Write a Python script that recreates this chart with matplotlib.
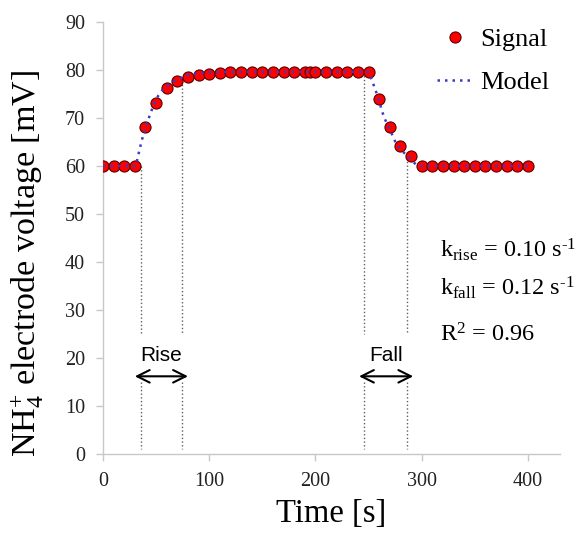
import matplotlib
matplotlib.use("Agg")
import matplotlib.pyplot as plt

time_s = [0, 10, 20, 30, 40, 50, 60, 70, 80, 90, 100, 110, 120, 130, 140, 150,
          160, 170, 180, 190, 195, 200, 210, 220, 230, 240, 250, 260, 270, 280,
          290, 300, 310, 320, 330, 340, 350, 360, 370, 380, 390, 400]
signal_mv = [60.0, 60.0, 60.0, 60.0, 68.2, 73.2, 76.2, 77.7, 78.6, 79.0, 79.2,
             79.4, 79.5, 79.6, 79.5, 79.5, 79.5, 79.5, 79.5, 79.5, 79.5, 79.5,
             79.5, 79.5, 79.5, 79.5, 79.5, 74.0, 68.1, 64.1, 62.1, 60.0, 60.0,
             60.0, 60.0, 60.0, 60.0, 60.0, 60.0, 60.0, 60.0, 60.0]

# model curve
model_t = [0, 31, 33.5, 36.5, 40, 44, 48, 52, 56, 60, 65, 70, 75, 80, 90, 100,
           120, 250, 253, 255.5, 260, 262.5, 265, 270, 275, 281, 285, 289,
           292, 296, 300, 400]
model_mv = [60.0, 60.0, 62.5, 65.3, 68.0, 70.5, 72.9, 74.6, 75.8, 76.6, 77.4,
            78.0, 78.5, 78.9, 79.3, 79.5, 79.6, 79.6, 77.9, 76.4, 73.6, 71.5,
            69.9, 67.6, 65.1, 63.2, 62.4, 61.6, 60.8, 60.1, 60.0, 60.0]

# rise / fall markers
guide_t = [36, 74, 246, 286]
guide_top = [60.0, 78.5, 79.6, 62.4]
span_names = ["Rise", "Fall"]
span_start = [30, 241]
span_end = [80, 292]

stats_text = [r"k$_{\rm rise}$ = 0.10 s$^{\text{-}1}$",
              r"k$_{\rm fall}$ = 0.12 s$^{\text{-}1}$",
              r"R$^{2}$ = 0.96"]
stats_y = [41.0, 33.0, 23.4]

# -----------------------------------

plt.rcParams['font.family'] = ['Liberation Serif', 'DejaVu Serif']
plt.rcParams['mathtext.fontset'] = 'custom'
plt.rcParams['mathtext.rm'] = 'Liberation Serif'
plt.rcParams['mathtext.it'] = 'Liberation Serif:italic'

fig = plt.figure(figsize=(5.85, 5.33), dpi=100)
ax = fig.add_axes([0.176, 0.148, 0.781, 0.811])

# dotted guides, broken where the Rise/Fall labels sit
for x, top in zip(guide_t, guide_top):
    ax.plot([x, x], [top, 25], ls=':', color='#606060', lw=1.0, zorder=1)
    ax.plot([x, x], [15, 1], ls=':', color='#606060', lw=1.0, zorder=1)

ax.plot(time_s, signal_mv, 'o', ms=8, mfc='red', mec='#5a0000', mew=0.8,
        label='Signal', zorder=3)
ax.plot(model_t, model_mv, color='#3c3cc0', lw=1.8, dashes=(1, 2.0),
        label='Model', zorder=4)

for name, a, b in zip(span_names, span_start, span_end):
    ax.annotate('', xy=(a, 16.2), xytext=(b, 16.2),
                arrowprops=dict(arrowstyle='<->,head_length=0.9,head_width=0.45',
                                color='black', lw=1.5, shrinkA=0, shrinkB=0,
                                mutation_scale=10))
    ax.text((a + b) / 2, 20.6, name, ha='center', va='center', fontsize=15,
            family='Liberation Sans')

for s, y in zip(stats_text, stats_y):
    ax.text(317, y, s, fontsize=17.5, va='baseline', ha='left')

ax.set_xlim(0, 430)
ax.set_ylim(0, 90)
ax.set_xticks([0, 100, 200, 300, 400])
ax.set_yticks(range(0, 91, 10))
for side in ['top', 'right']:
    ax.spines[side].set_visible(False)
for side in ['left', 'bottom']:
    ax.spines[side].set_color('#c8c8c8')
    ax.spines[side].set_linewidth(1.0)
ax.tick_params(colors='#c8c8c8', labelcolor='#222222', labelsize=14.5,
               length=5, width=1.0, pad=8)
ax.set_xlabel('Time [s]', fontsize=23.5, labelpad=5)
ax.set_ylabel(r'NH$_{4}^{+}$ electrode voltage [mV]', fontsize=24.5)
ax.yaxis.set_label_coords(-0.124, 0.44)

ax.legend(loc='upper right', bbox_to_anchor=(1.018, 1.03), frameon=False,
          fontsize=19, handlelength=1.4, handletextpad=0.25, labelspacing=0.75,
          borderpad=0.2)

fig.savefig('out.png', dpi=100)
